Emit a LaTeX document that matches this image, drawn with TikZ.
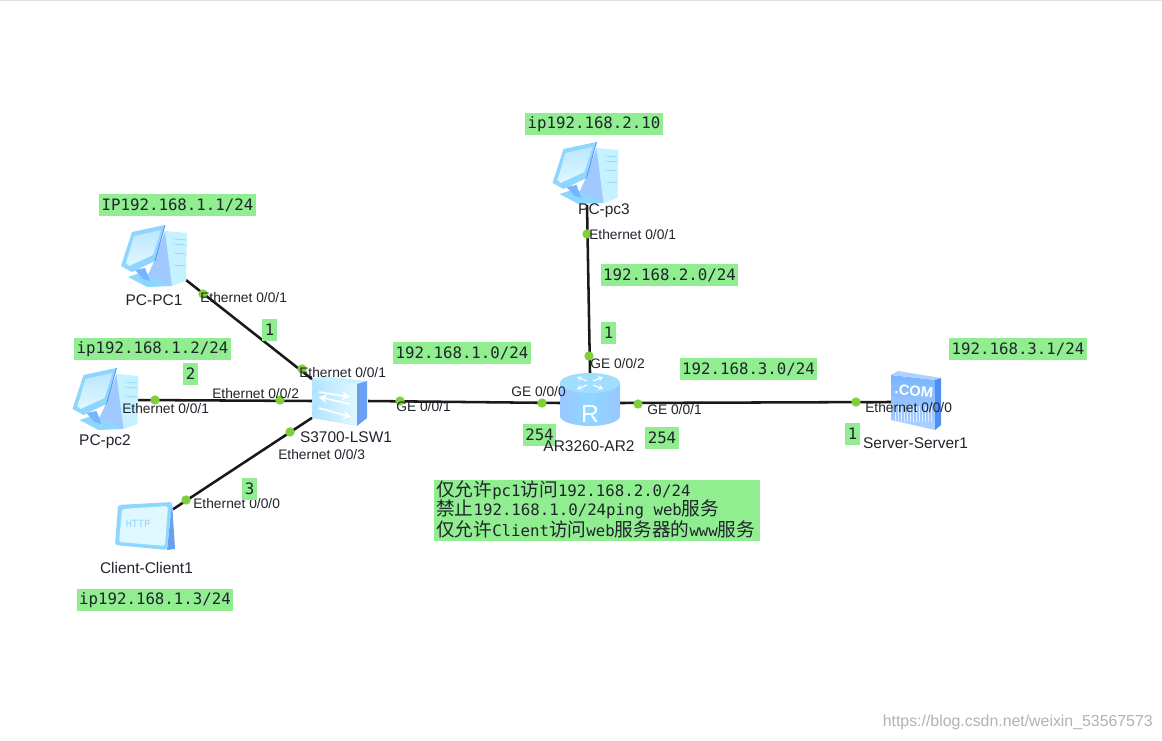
\documentclass[tikz,border=0pt]{standalone}
\usepackage{fontspec}
\setmainfont{Liberation Sans}
\newfontfamily\codefont{DejaVu Sans Mono}
\newfontfamily\cjk{Noto Sans CJK SC}
\usetikzlibrary{arrows.meta}
\definecolor{notegreen}{HTML}{90EE90}
\definecolor{portgreen}{HTML}{7FCF3A}
\definecolor{inktext}{HTML}{20242C}
\definecolor{skyA}{HTML}{8FD6FF}
\definecolor{skyB}{HTML}{DFF8FF}
\definecolor{skyC}{HTML}{C6F2FF}
\definecolor{blueA}{HTML}{78B4FF}
\definecolor{blueB}{HTML}{4F8FF0}
\newcommand{\zh}[1]{{\cjk\fontsize{14pt}{14.3pt}\selectfont #1}}
\tikzset{
  x=0.75pt, y=-0.75pt,
  devbox/.style 2 args={inner sep=0pt, outer sep=0pt, minimum width=#1*0.75pt, minimum height=#2*0.75pt},
  link/.style={draw=black!90, line width=1.9pt},
  portdot/.style={circle, fill=portgreen, inner sep=0pt, minimum size=7pt},
  portlabel/.style={anchor=west, inner sep=0pt, text=inktext, font=\fontsize{10.35pt}{12pt}\selectfont},
  devlabel/.style={inner sep=0pt, text=inktext, font=\fontsize{11.6pt}{13pt}\selectfont},
  tag/.style={fill=notegreen, inner xsep=1.9pt, inner ysep=0pt, minimum height=16.5pt,
    text=inktext, font=\codefont\fontsize{11.8pt}{13pt}\selectfont},
  pics/desktop/.style={code={
    % tower
    \fill[skyC] (11,-25) -- (33,-23) -- (32,25) -- (18,30) -- cycle;
    \fill[blueA!70!white] (11,-25) -- (18,30) -- (-9,25) -- (-1,8) -- cycle;
    \foreach \yy in {-17,-12,-3,9}{\draw[skyA, line width=0.5pt] (20,\yy) -- (32,\yy+1);}
    % stand and foot
    \fill[skyA] (-26,21) -- (-11,16) -- (18,30) -- (-7,31) -- cycle;
    \fill[blueA] (-19,14) -- (-9,12) -- (-4,25) -- (-11,23) -- cycle;
    % monitor
    \fill[skyA] (-33,10) -- (-22,-24) -- (11,-31) -- (1,5) -- (-22,16) -- cycle;
    \shade[top color=skyA!60!white, bottom color=skyB] (-28,7) -- (-20,-20) -- (7,-26) -- (-1,-1) -- (-25,10) -- cycle;
    \draw[blueB, line width=0.6pt] (11,-31) -- (1,5);
  }},
  pics/switchbox/.style={code={
    \shade[left color=skyA!70!white, right color=skyB] (-28,-22) -- (17,-17) -- (17,25) -- (-28,17) -- cycle;
    \fill[skyC] (-28,-22) -- (17,-17) -- (27,-20) -- (-17,-25) -- cycle;
    \fill[blueB!85!white] (17,-17) -- (27,-20) -- (27,17) -- (17,25) -- cycle;
    \foreach \xa/\ya/\xb/\yb in {-21/-9/10/-4, 10/3/-21/-4, -21/7/11/16}{
      \draw[white, line width=1.2pt, -{Stealth[length=6pt,width=7pt]}] (\xa,\ya) -- (\xb,\yb);}
  }},
  pics/routerdrum/.style={code={
    \shade[left color=blueA!75!white, right color=blueA!75!white, middle color=skyA]
      (-30,-17) -- (-30,16) arc[start angle=180, end angle=0, x radius=30, y radius=10]
      -- (30,-17) -- cycle;
    \fill[skyA!70!skyC] (0,-17) ellipse[x radius=30, y radius=10];
    \foreach \xa/\ya/\xb/\yb in {-3/-19/-13/-23, 3/-15/13/-11, 3/-19/13/-23, -3/-15/-13/-11}{
      \draw[white, line width=0.9pt, -{Stealth[length=3.5pt,width=4pt]}] (\xa,\ya) -- (\xb,\yb);}
    \node[inner sep=0pt, text=white, font=\fontsize{18.5pt}{20pt}\selectfont] (routermark) at (0,14) {R};
  }},
  pics/webserver/.style={code={
    \shade[top color=blueA, bottom color=blueA!60!white] (-25,-27) -- (19,-22) -- (19,28) -- (-25,18) -- cycle;
    \fill[blueA!60!white] (-25,-27) -- (-18,-31) -- (25,-24) -- (19,-22) -- cycle;
    \fill[blueB] (19,-22) -- (25,-24) -- (25,23) -- (19,28) -- cycle;
    \foreach \xx in {-21,-18,...,16}{\draw[white!75!blueA, line width=0.5pt] (\xx,4) -- (\xx,20);}
    \node[inner sep=0pt, text=white, rotate=-7, font=\bfseries\fontsize{11pt}{12pt}\selectfont] (servermark) at (-2,-11) {.COM};
  }},
  pics/webclient/.style={code={
    \fill[blueB!85!white] (28,-24) -- (31,23) -- (23,24) -- cycle;
    \fill[skyA, rounded corners=2pt] (-26,-21) -- (28,-24) -- (23,24) -- (-29,19) -- cycle;
    \fill[skyB, rounded corners=2pt] (-22,-17) -- (24,-20) -- (21,20) -- (-25,16) -- cycle;
    \node[inner sep=0pt, text=skyA, font=\codefont\fontsize{7.5pt}{8pt}\selectfont] (clientmark) at (-6,-2) {HTTP};
  }},
}
\begin{document}
\begin{tikzpicture}
\useasboundingbox (0,0) rectangle (1162,741);
\fill[white] (0,0) rectangle (1162,741);
\draw[black!12, line width=0.5pt] (0,0.5) -- (1162,0.5);

% device footprints that the links attach to
\node[devbox={62}{46}] (pc1) at (155,257) {};
\node[devbox={62}{64}] (pc2) at (103,400) {};
\node[devbox={64}{64}] (pc3) at (587,173) {};
\node[devbox={56}{60}] (lsw) at (340,401) {};
\node[devbox={60}{60}] (ar)  at (590,403) {};
\node[devbox={50}{60}] (srv) at (916,402) {};
\node[devbox={58}{50}] (cli) at (144,526) {};

% links
\draw[link] (pc1.south east) -- (lsw.142);
\draw[link] (pc2.east) -- (lsw.west);
\draw[link] (cli.30) -- (lsw.211);
\draw[link] (lsw.east) -- (ar.west);
\draw[link] (pc3.south) -- (ar.north);
\draw[link] (ar.east) -- (srv.west);

% device icons
\pic at (154,256) {desktop};
\pic at (105.5,399) {desktop};
\pic at (585.5,173) {desktop};
\pic at (340,401) {switchbox};
\pic at (590,400) {routerdrum};
\pic at (916,402) {webserver};
\pic at (144,526) {webclient};

% interface markers
\node[portdot] (d1) at (203,294) {};
\node[portdot] (d2) at (302,369) {};
\node[portdot] (d3) at (155,400) {};
\node[portdot] (d4) at (280,400) {};
\node[portdot] (d5) at (290,432) {};
\node[portdot] (d6) at (186,500) {};
\node[portdot] (d7) at (400,401) {};
\node[portdot] (d8) at (542,403) {};
\node[portdot] (d9) at (589,356) {};
\node[portdot] (d10) at (587,234) {};
\node[portdot] (d11) at (638,404) {};
\node[portdot] (d12) at (856,402) {};

% interface names
\node[portlabel] (p1) at (200,298) {Ethernet 0/0/1};
\node[portlabel] (p2) at (299,373) {Ethernet 0/0/1};
\node[portlabel] (p3) at (122,409) {Ethernet 0/0/1};
\node[portlabel] (p4) at (212,394) {Ethernet 0/0/2};
\node[portlabel] (p5) at (278,455) {Ethernet 0/0/3};
\node[portlabel] (p6) at (193,504) {Ethernet 0/0/0};
\node[portlabel] (p7) at (396,407) {GE 0/0/1};
\node[portlabel] (p8) at (511,392) {GE 0/0/0};
\node[portlabel] (p9) at (590,364) {GE 0/0/2};
\node[portlabel] (p10) at (647,410) {GE 0/0/1};
\node[portlabel] (p11) at (589,235) {Ethernet 0/0/1};
\node[portlabel] (p12) at (865,408) {Ethernet 0/0/0};

% address and numbering tags
\node[tag] (t1) at (177.5,205) {IP192.168.1.1/24};
\node[tag] (t2) at (152.5,349) {ip192.168.1.2/24};
\node[tag] (t3) at (155,600) {ip192.168.1.3/24};
\node[tag] (t4) at (594,124) {ip192.168.2.10};
\node[tag] (t5) at (462,353) {192.168.1.0/24};
\node[tag] (t6) at (669.5,275) {192.168.2.0/24};
\node[tag] (t7) at (748.5,369) {192.168.3.0/24};
\node[tag] (t8) at (1018,349) {192.168.3.1/24};
\node[tag] (t9) at (269.5,330) {1};
\node[tag] (t10) at (190.5,374) {2};
\node[tag] (t11) at (249.5,489) {3};
\node[tag] (t12) at (608.5,333) {1};
\node[tag] (t13) at (852.5,434) {1};
\node[tag] (t14) at (539.5,435) {254};
\node[tag] (t15) at (662,437.5) {254};

% device names
\node[devlabel] (n1) at (154,300) {PC-PC1};
\node[devlabel] (n2) at (105,442) {PC-pc2};
\node[devlabel] (n3) at (604,211) {PC-pc3};
\node[devlabel] (n4) at (346,437) {S3700-LSW1};
\node[devlabel] (n5) at (589,446) {AR3260-AR2};
\node[devlabel] (n6) at (915.5,443) {Server-Server1};
\node[devlabel] (n7) at (146.5,568) {Client-Client1};

% policy note
\node[fill=notegreen, anchor=north west, minimum width=326*0.75pt, minimum height=61*0.75pt,
      text width=322*0.75pt, inner xsep=1.5pt, inner ysep=0pt, align=left, text=inktext,
      font=\codefont\fontsize{11.8pt}{14.3pt}\selectfont] (note) at (434,480)
  {\zh{仅允许}pc1\zh{访问}192.168.2.0/24\\
   \zh{禁止}192.168.1.0/24ping\hspace{7.1pt}web\zh{服务}\\
   \zh{仅允许}Client\zh{访问}web\zh{服务器的}www\zh{服务}\par\vspace{2.5pt}};

\node[anchor=east, inner sep=0pt, text=black!30, font=\fontsize{11.9pt}{13pt}\selectfont] (mark) at (1153,722)
  {https://blog.csdn.net/weixin\_53567573};
\end{tikzpicture}
\end{document}
